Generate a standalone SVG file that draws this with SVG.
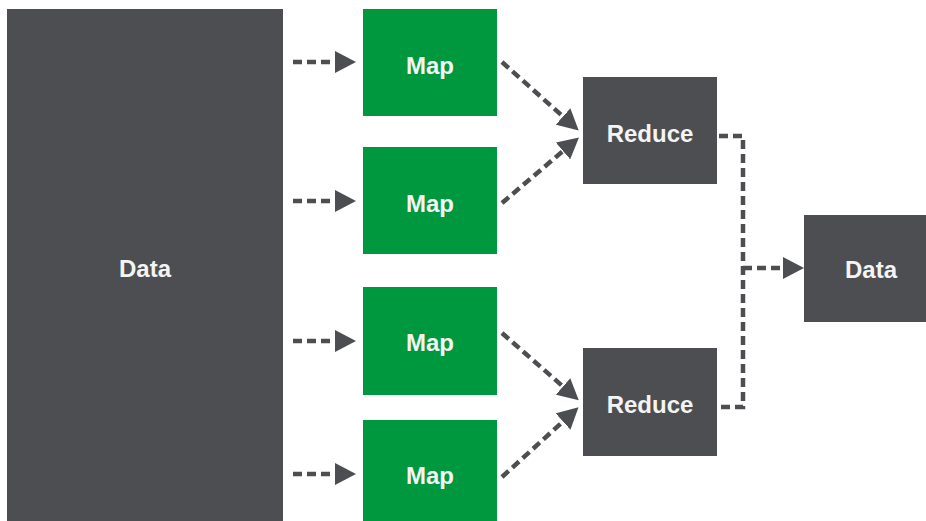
<svg xmlns="http://www.w3.org/2000/svg" width="926" height="521" viewBox="0 0 926 521">
<defs>
<style>
.dark{fill:#4d4e52}
.green{fill:#00983f}
.lbl{font-family:"Liberation Sans",Arial,sans-serif;font-weight:bold;font-size:24px;fill:#f4f4f4;text-anchor:middle}
.con{fill:none;stroke:#4d4e52;stroke-width:4.5;stroke-dasharray:9 5}
</style>
<marker id="ah" markerUnits="userSpaceOnUse" markerWidth="21" markerHeight="22" refX="0" refY="11" orient="auto" viewBox="0 0 21 22">
<path d="M0,0 L21,11 L0,22 z" fill="#4d4e52"/>
</marker>
</defs>
<rect width="926" height="521" fill="#ffffff"/>
<g id="data-in"><rect class="dark" x="7" y="9" width="276" height="520"/><text class="lbl" x="145" y="277">Data</text></g>
<g id="map1"><rect class="green" x="363" y="9" width="134" height="107"/><text class="lbl" x="430" y="74">Map</text></g>
<g id="map2"><rect class="green" x="363" y="147" width="134" height="107"/><text class="lbl" x="430" y="212">Map</text></g>
<g id="map3"><rect class="green" x="363" y="287" width="134" height="108"/><text class="lbl" x="430" y="351">Map</text></g>
<g id="map4"><rect class="green" x="363" y="420" width="134" height="107"/><text class="lbl" x="430" y="484">Map</text></g>
<g id="reduce1"><rect class="dark" x="583" y="77" width="134" height="107"/><text class="lbl" x="650" y="142">Reduce</text></g>
<g id="reduce2"><rect class="dark" x="583" y="348" width="134" height="108"/><text class="lbl" x="650" y="413">Reduce</text></g>
<g id="data-out"><rect class="dark" x="804" y="215" width="134" height="107"/><text class="lbl" x="871" y="278">Data</text></g>
<g id="connectors">
<path class="con" d="M293,62 H335" marker-end="url(#ah)"/>
<path class="con" d="M293,201 H335" marker-end="url(#ah)"/>
<path class="con" d="M293,341 H335" marker-end="url(#ah)"/>
<path class="con" d="M293,474 H335" marker-end="url(#ah)"/>
<path class="con" d="M502,62 L563,116.5" marker-end="url(#ah)"/>
<path class="con" d="M502,203 L563,151" marker-end="url(#ah)"/>
<path class="con" d="M502,333 L563,386.5" marker-end="url(#ah)"/>
<path class="con" d="M502,477 L563,421.5" marker-end="url(#ah)"/>
<path class="con" d="M719,136 H743 V407 H719"/>
<path class="con" d="M743,268 H783" marker-end="url(#ah)"/>
</g>
</svg>
